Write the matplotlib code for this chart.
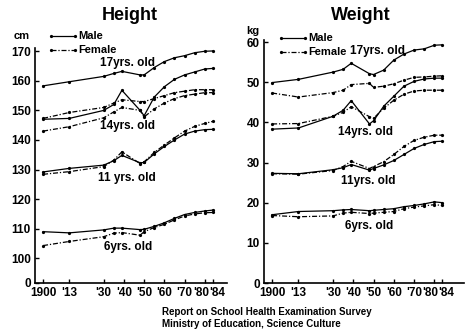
import matplotlib
matplotlib.use("Agg")
import matplotlib.pyplot as plt
import matplotlib.transforms as mtrans

years = [1900, 1913, 1930, 1935, 1939, 1948, 1950, 1955, 1960, 1965, 1970, 1975, 1980, 1984]

# Height (cm)
h17_m = [158.3, 159.7, 161.5, 162.5, 163.2, 162.0, 162.0, 164.5, 166.5, 167.8, 168.5, 169.5, 170.0, 170.1]
h17_f = [147.3, 149.3, 151.0, 152.5, 153.6, 153.0, 153.0, 154.0, 155.0, 156.0, 156.5, 157.0, 157.0, 157.0]
h14_m = [147.0, 147.3, 150.0, 152.0, 156.8, 150.0, 148.2, 154.5, 158.0, 160.5, 162.0, 163.0, 164.0, 164.2]
h14_f = [143.0, 144.5, 147.5, 149.5, 151.0, 150.0, 147.8, 150.5, 152.5, 154.0, 155.0, 155.5, 156.0, 156.0]
h11_m = [129.2, 130.4, 131.5, 133.0, 134.8, 132.3, 132.4, 135.3, 137.8, 140.0, 142.0, 143.0, 143.5, 143.6]
h11_f = [128.4, 129.3, 131.0, 133.2, 136.0, 132.0, 132.6, 135.8, 138.3, 140.7, 143.0, 144.6, 145.6, 146.3]
h6_m = [109.0, 108.6, 109.6, 110.2, 110.2, 109.7, 109.8, 110.8, 112.0, 113.5, 114.8, 115.5, 116.0, 116.3]
h6_f = [104.3, 105.7, 107.3, 108.5, 108.7, 107.8, 109.0, 110.4, 111.5, 113.0, 114.3, 115.0, 115.4, 115.5]

# Weight (kg)
w17_m = [49.9, 50.7, 52.5, 53.2, 54.7, 52.1, 51.9, 53.0, 55.5, 57.0, 58.0, 58.3, 59.2, 59.3]
w17_f = [47.3, 46.3, 47.4, 48.0, 49.4, 49.7, 48.7, 49.0, 49.6, 50.5, 51.2, 51.3, 51.5, 51.6]
w14_m = [38.3, 38.6, 41.5, 43.0, 45.4, 39.6, 40.4, 44.0, 46.5, 49.0, 50.2, 50.8, 51.0, 51.0]
w14_f = [39.6, 39.7, 41.5, 42.5, 43.9, 41.4, 41.0, 43.5, 45.5, 47.0, 47.8, 48.0, 48.0, 48.0]
w11_m = [27.3, 27.2, 28.2, 28.7, 29.5, 28.1, 28.5, 29.4, 30.5, 32.0, 33.5, 34.5, 35.2, 35.3]
w11_f = [27.2, 27.1, 28.0, 29.0, 30.3, 28.5, 29.0, 30.2, 32.0, 34.0, 35.5, 36.3, 36.8, 36.8]
w6_m = [17.0, 17.8, 18.0, 18.2, 18.3, 18.0, 18.1, 18.3, 18.5, 19.0, 19.3, 19.7, 20.2, 20.0]
w6_f = [16.8, 16.5, 16.7, 17.4, 17.6, 17.3, 17.4, 17.6, 17.8, 18.5, 18.9, 19.2, 19.5, 19.3]

xticks = [1900, 1913, 1930, 1940, 1950, 1960, 1970, 1980, 1984]
xticklabels = ["1900", "'13", "'30", "'40", "'50", "'60", "'70", "'80", "'84"]
h_ticks = [91.7, 100, 110, 120, 130, 140, 150, 160, 170]
h_ticklabels = ["0", "100", "110", "120", "130", "140", "150", "160", "170"]
w_ticks = [0, 10, 20, 30, 40, 50, 60]

plt.rcParams['font.family'] = ['Liberation Sans', 'DejaVu Sans']

fig = plt.figure(figsize=(4.72, 3.34), dpi=100)
axL = fig.add_axes([35/472, 1-283/334, 192/472, (283-48)/334])
axR = fig.add_axes([264/472, 1-283/334, 200/472, (283-40)/334])

male_kw = dict(color='black', lw=0.9, ls='-', marker='o', ms=1.3)
fem_kw = dict(color='black', lw=0.9, ls=(0, (4, 1.5, 1, 1.5)), marker='o', ms=1.3)

for m, f in [(h17_m, h17_f), (h14_m, h14_f), (h11_m, h11_f), (h6_m, h6_f)]:
    axL.plot(years, m, **male_kw)
    axL.plot(years, f, **fem_kw)
for m, f in [(w17_m, w17_f), (w14_m, w14_f), (w11_m, w11_f), (w6_m, w6_f)]:
    axR.plot(years, m, **male_kw)
    axR.plot(years, f, **fem_kw)

axL.set_xlim(1896, 1991)
axL.set_ylim(91.65, 171.1)
axL.set_yticks(h_ticks)
axL.set_yticklabels(h_ticklabels)
axR.set_xlim(1896, 1994.6)
axR.set_ylim(0, 60.5)
axR.set_yticks(w_ticks)

for ax in (axL, axR):
    ax.set_xticks(xticks)
    ax.set_xticklabels(xticklabels)
    for s in ('top', 'right'):
        ax.spines[s].set_visible(False)
    ax.spines['left'].set_linewidth(1.2)
    ax.spines['bottom'].set_linewidth(1.2)
    ax.tick_params(axis='both', direction='in', length=3, width=1, labelsize=8.5, pad=3)
    for lab in ax.get_xticklabels() + ax.get_yticklabels():
        lab.set_fontweight('bold')
    xl = ax.get_xticklabels()
    xl[-2].set_transform(xl[-2].get_transform() + mtrans.ScaledTranslation(-4/100, 0, fig.dpi_scale_trans))
    xl[-1].set_transform(xl[-1].get_transform() + mtrans.ScaledTranslation(4/100, 0, fig.dpi_scale_trans))
    ax.patch.set_alpha(0)

fig.text(130/472, 1-15/334, "Height", ha='center', va='center', fontsize=13, fontweight='bold')
fig.text(361/472, 1-15/334, "Weight", ha='center', va='center', fontsize=13, fontweight='bold')
fig.text(22/472, 1-36/334, "cm", ha='center', va='center', fontsize=8, fontweight='bold')
fig.text(253/472, 1-31/334, "kg", ha='center', va='center', fontsize=8, fontweight='bold')

def fy(ax, ypix):
    b = ax.get_position()
    return ((1 - ypix/334) - b.y0) / b.height

def fx(ax, xpix):
    b = ax.get_position()
    return (xpix/472 - b.x0) / b.width

def legend(ax, x0, x1, ytop, ybot, xt):
    ax.plot([x0, x1], [ytop, ytop], transform=ax.transAxes, clip_on=False, **male_kw)
    ax.plot([x0, x1], [ybot, ybot], transform=ax.transAxes, clip_on=False, **fem_kw)
    ax.text(xt, ytop, "Male", transform=ax.transAxes, va='center', fontsize=8, fontweight='bold')
    ax.text(xt, ybot, "Female", transform=ax.transAxes, va='center', fontsize=8, fontweight='bold')

legend(axL, fx(axL, 51), fx(axL, 75), fy(axL, 36), fy(axL, 50), fx(axL, 78))
legend(axR, fx(axR, 281), fx(axR, 305), fy(axR, 38), fy(axR, 52), fx(axR, 308))

lab_kw = dict(ha='center', va='center', fontsize=8.5, fontweight='bold')
for ax, xs, ys, txt in [
    (axL, 127, 63, "17yrs. old"), (axL, 127, 126, "14yrs. old"),
    (axL, 127, 178, "11 yrs. old"), (axL, 128, 247, "6yrs. old"),
    (axR, 377, 51, "17yrs. old"), (axR, 366, 132, "14yrs. old"),
    (axR, 368, 181, "11yrs. old"), (axR, 369, 226, "6yrs. old")]:
    ax.text(fx(ax, xs), fy(ax, ys), txt, transform=ax.transAxes, **lab_kw)

fig.text(162/472, 1-312/334, "Report on School Health Examination Survey", ha='left', va='center', fontsize=7, fontweight='bold')
fig.text(162/472, 1-324/334, "Ministry of Education, Science Culture", ha='left', va='center', fontsize=7, fontweight='bold')

fig.savefig("out.png", dpi=100)
